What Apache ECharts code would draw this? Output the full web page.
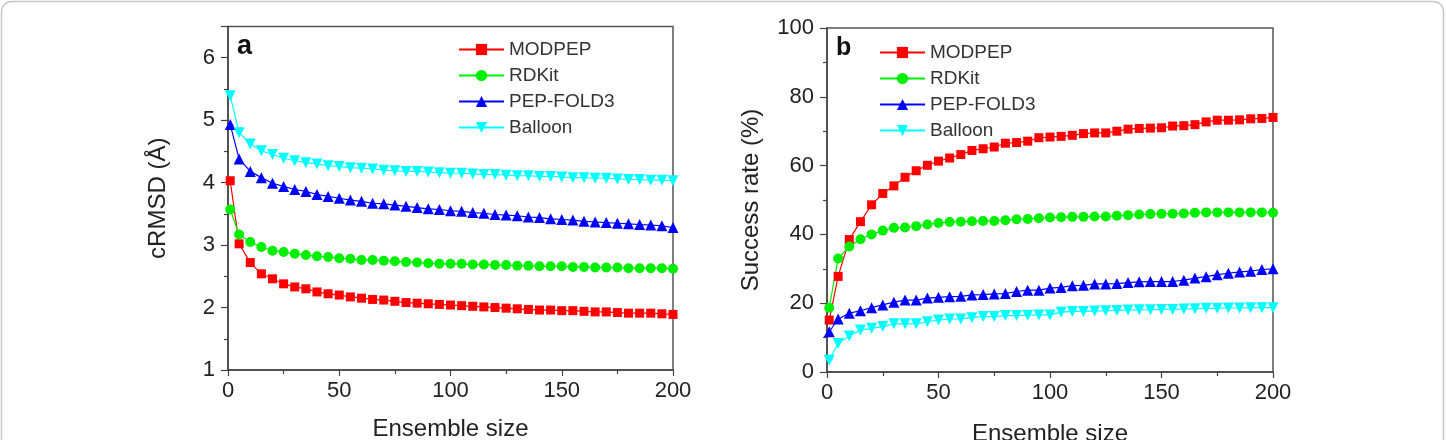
<!DOCTYPE html>
<html>
<head>
<meta charset="utf-8">
<script src="https://cdn.jsdelivr.net/npm/echarts@6/dist/echarts.min.js"></script>
<style>
  html, body { margin: 0; padding: 0; background: #fff; }
  #main { width: 1446px; height: 440px; }
</style>
</head>
<body>
<div id="main"></div>
<script>
// ensemble sizes (x)
var ensembleSize = [1, 5, 10, 15, 20, 25, 30, 35, 40, 45, 50, 55, 60, 65, 70, 75, 80, 85, 90, 95, 100,
  105, 110, 115, 120, 125, 130, 135, 140, 145, 150, 155, 160, 165, 170, 175, 180, 185, 190, 195, 200];

// panel a: cRMSD (Å)
var rmsdModpep = [4.03, 3.02, 2.72, 2.54, 2.46, 2.38, 2.33, 2.30, 2.25, 2.22, 2.20, 2.17, 2.15, 2.13, 2.12, 2.10, 2.08, 2.07, 2.06, 2.05, 2.04,
  2.03, 2.02, 2.01, 2.00, 1.99, 1.98, 1.97, 1.96, 1.96, 1.95, 1.95, 1.94, 1.93, 1.93, 1.92, 1.91, 1.91, 1.91, 1.90, 1.89];
var rmsdRdkit = [3.57, 3.17, 3.05, 2.97, 2.91, 2.89, 2.86, 2.84, 2.82, 2.81, 2.79, 2.78, 2.76, 2.76, 2.75, 2.74, 2.73, 2.72, 2.71, 2.70, 2.70,
  2.70, 2.69, 2.69, 2.68, 2.68, 2.67, 2.67, 2.66, 2.66, 2.66, 2.65, 2.65, 2.64, 2.64, 2.64, 2.63, 2.63, 2.63, 2.63, 2.62];
var rmsdPepfold = [4.93, 4.38, 4.18, 4.08, 3.99, 3.94, 3.89, 3.86, 3.81, 3.78, 3.75, 3.72, 3.70, 3.67, 3.66, 3.64, 3.62, 3.60, 3.58, 3.57, 3.55,
  3.54, 3.52, 3.51, 3.49, 3.48, 3.47, 3.45, 3.44, 3.42, 3.41, 3.40, 3.38, 3.37, 3.36, 3.35, 3.34, 3.33, 3.32, 3.31, 3.28];
var rmsdBalloon = [5.39, 4.80, 4.62, 4.51, 4.45, 4.39, 4.35, 4.32, 4.30, 4.27, 4.26, 4.24, 4.23, 4.22, 4.20, 4.19, 4.18, 4.18, 4.17, 4.16, 4.15,
  4.15, 4.14, 4.13, 4.13, 4.12, 4.11, 4.11, 4.10, 4.10, 4.09, 4.08, 4.08, 4.07, 4.07, 4.06, 4.05, 4.05, 4.04, 4.04, 4.03];

// panel b: success rate (%)
var rateModpep = [15.1, 27.8, 38.5, 43.7, 48.6, 51.9, 54.1, 56.6, 58.5, 60.1, 61.3, 62.2, 63.2, 64.4, 64.9, 65.4, 66.5, 66.7, 67.1, 68.1, 68.3,
  68.5, 68.8, 69.3, 69.5, 69.5, 70.0, 70.6, 70.8, 70.9, 71.0, 71.5, 71.6, 71.9, 72.7, 73.2, 73.2, 73.3, 73.6, 73.7, 74.0];
var rateRdkit = [18.7, 33.0, 36.5, 38.6, 40.0, 41.1, 41.9, 42.0, 42.4, 42.9, 43.3, 43.6, 43.7, 43.8, 43.9, 43.9, 44.1, 44.4, 44.5, 44.7, 44.9,
  45.0, 45.1, 45.1, 45.2, 45.2, 45.4, 45.6, 45.8, 45.9, 46.0, 46.0, 46.1, 46.3, 46.4, 46.4, 46.4, 46.4, 46.4, 46.4, 46.3];
var ratePepfold = [11.7, 15.4, 17.1, 17.8, 18.7, 19.5, 20.3, 20.9, 20.9, 21.5, 21.7, 21.9, 22.0, 22.4, 22.5, 22.7, 22.8, 23.4, 23.8, 23.8, 24.4,
  24.6, 25.1, 25.2, 25.6, 25.6, 25.7, 26.0, 26.2, 26.3, 26.3, 26.3, 26.7, 27.3, 27.7, 28.3, 28.7, 29.1, 29.3, 29.8, 30.0];
var rateBalloon = [3.4, 8.3, 10.5, 12.2, 12.7, 13.2, 14.0, 14.0, 14.0, 14.6, 15.1, 15.4, 15.4, 15.8, 16.1, 16.1, 16.4, 16.4, 16.5, 16.6, 16.6,
  17.4, 17.6, 17.6, 17.7, 17.8, 17.9, 18.0, 18.1, 18.1, 18.2, 18.2, 18.3, 18.4, 18.5, 18.5, 18.6, 18.6, 18.7, 18.7, 18.7];

var methodNames = ['MODPEP', 'RDKit', 'PEP-FOLD3', 'Balloon'];
var methodColors = ['#ff0000', '#00ee00', '#0000ff', '#00ffff'];
var methodSymbols = ['rect', 'circle', 'triangle', 'triangle'];
var symbolSizes = [9, 10, 11, 11];
var symbolRotates = [0, 0, 0, 180];

var FONT = 'Liberation Sans, Arial, sans-serif';

function pairs(ys) {
  return ensembleSize.map(function (x, i) { return [x, ys[i]]; });
}

function makeSeries(idx, panelData) {
  return panelData.map(function (ys, i) {
    return {
      name: methodNames[i],
      type: 'line',
      xAxisIndex: idx,
      yAxisIndex: idx,
      data: pairs(ys),
      symbol: methodSymbols[i],
      symbolSize: symbolSizes[i],
      symbolRotate: symbolRotates[i],
      showAllSymbol: true,
      lineStyle: { color: methodColors[i], width: 1.2 },
      itemStyle: { color: methodColors[i] }
    };
  });
}

function xAxisCfg(gridIndex, nameGap) {
  return {
    type: 'value',
    gridIndex: gridIndex,
    min: 0, max: 200, interval: 50,
    name: 'Ensemble size',
    nameLocation: 'middle',
    nameGap: nameGap,
    nameTextStyle: { fontFamily: FONT, fontSize: 24, color: '#222' },
    axisLine: { show: true, lineStyle: { color: '#444', width: 1.5 } },
    axisTick: { show: true, inside: false, length: 6, lineStyle: { color: '#444', width: 1.2 } },
    minorTick: { show: true, splitNumber: 2, length: 4, lineStyle: { color: '#444', width: 1.2 } },
    axisLabel: { fontFamily: FONT, fontSize: 22, color: '#222', margin: 10 },
    splitLine: { show: false }
  };
}

function yAxisCfg(gridIndex, min, max, interval, name, nameGap) {
  return {
    type: 'value',
    gridIndex: gridIndex,
    min: min, max: max, interval: interval,
    name: name,
    nameLocation: 'middle',
    nameGap: nameGap,
    nameTextStyle: { fontFamily: FONT, fontSize: 24, color: '#222' },
    axisLine: { show: true, lineStyle: { color: '#444', width: 1.5 } },
    axisTick: { show: true, inside: false, length: 7, lineStyle: { color: '#444', width: 1.2 } },
    minorTick: { show: true, splitNumber: 2, length: 4, lineStyle: { color: '#444', width: 1.2 } },
    axisLabel: { fontFamily: FONT, fontSize: 22, color: '#222', margin: 13, showMaxLabel: max % interval === 0 },
    splitLine: { show: false }
  };
}

function legendCfg(left, top) {
  return {
    left: left, top: top, orient: 'vertical', padding: 0,
    itemWidth: 45, itemHeight: 14, itemGap: 7,
    textStyle: { fontFamily: FONT, fontSize: 19, color: '#333', lineHeight: 18 },
    data: methodNames.map(function (n) { return { name: n }; })
  };
}

var chart = echarts.init(document.getElementById('main'), null, { renderer: 'canvas' });

var option = {
  animation: false,
  backgroundColor: '#fff',
  grid: [
    { left: 228, top: 26.5, width: 445, height: 343.5, show: true, borderColor: '#555', borderWidth: 1.5,
      containLabel: false, outerBoundsMode: 'none' },
    { left: 827, top: 28, width: 446, height: 344, show: true, borderColor: '#555', borderWidth: 1.5,
      containLabel: false, outerBoundsMode: 'none' }
  ],
  xAxis: [xAxisCfg(0, 47), xAxisCfg(1, 50)],
  yAxis: [
    yAxisCfg(0, 1, 6.5, 1, 'cRMSD (Å)', 58),
    yAxisCfg(1, 0, 100, 20, 'Success rate (%)', 64)
  ],
  legend: [legendCfg(458, 40), legendCfg(879, 43)],
  graphic: [
    {
      type: 'rect', silent: true, z: -1,
      shape: { x: 1.5, y: 1.5, width: 1442, height: 470, r: 10 },
      style: { fill: 'none', stroke: '#c8c8c8', lineWidth: 1.5 }
    },
    {
      type: 'text', left: 237, top: 33,
      style: { text: 'a', font: 'bold 27px ' + FONT, fill: '#111' }
    },
    {
      type: 'text', left: 836, top: 36,
      style: { text: 'b', font: 'bold 25px ' + FONT, fill: '#111' }
    }
  ],
  series: makeSeries(0, [rmsdModpep, rmsdRdkit, rmsdPepfold, rmsdBalloon])
    .concat(makeSeries(1, [rateModpep, rateRdkit, ratePepfold, rateBalloon]))
};

chart.setOption(option);
</script>
</body>
</html>
